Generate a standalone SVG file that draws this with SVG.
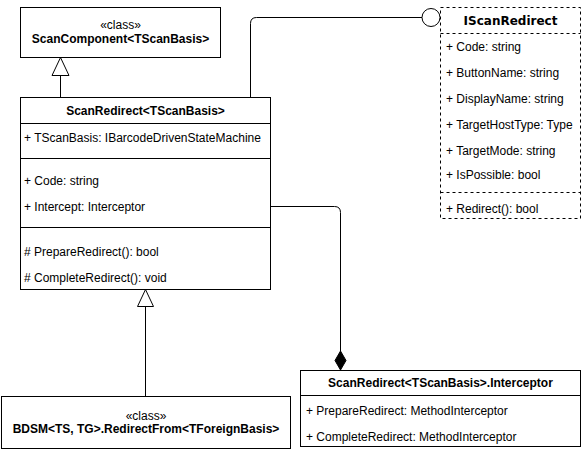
<svg xmlns="http://www.w3.org/2000/svg" width="581" height="451" viewBox="0 0 581 451">
<style>
.box{fill:#fff;stroke:#000;stroke-width:1}
.dash{fill:#fff;stroke:#000;stroke-width:1;stroke-dasharray:3 3}
.ln{fill:none;stroke:#000;stroke-width:1}
.dl{fill:none;stroke:#000;stroke-width:1;stroke-dasharray:3 3}
text{font-family:"Liberation Sans",Arial,sans-serif;font-size:12px;fill:#000}
.t{font-weight:bold;text-anchor:middle}
.c{text-anchor:middle}
.it{font-family:"DejaVu Sans",Verdana,sans-serif;font-weight:bold;text-anchor:middle}
</style>
<g id="connectors">
<path class="ln" d="M60.5,75.5 V97.5"/>
<polygon class="box" points="60.5,57.5 52,75.5 69,75.5"/>
<path class="ln" d="M145.5,306.5 V396.5"/>
<polygon class="box" points="145.5,289.5 137.5,306.5 153.5,306.5"/>
<path class="ln" d="M250.5,97.5 V23.5 Q250.5,17.5 256.5,17.5 H422"/>
<circle class="box" cx="431" cy="17.5" r="9"/>
<path class="ln" d="M270.5,206.5 H334.5 Q340.5,206.5 340.5,212.5 V351"/>
<polygon points="340.5,351 346,360.5 340.5,370 335,360.5" fill="#000" stroke="#000"/>
</g>
<g id="ScanComponent">
<rect class="box" x="20.5" y="7.5" width="200" height="50"/>
<text class="c" x="120.5" y="29">«class»</text>
<text class="t" x="120.5" y="43">ScanComponent&lt;TScanBasis&gt;</text>
</g>
<g id="ScanRedirect">
<rect class="box" x="20.5" y="97.5" width="250" height="192"/>
<text class="t" x="145.5" y="115">ScanRedirect&lt;TScanBasis&gt;</text>
<path class="ln" d="M20.5,123.5 H270.5 M20.5,158.5 H270.5 M20.5,227.5 H270.5"/>
<text x="24" y="142">+ TScanBasis: IBarcodeDrivenStateMachine</text>
<text x="24" y="185">+ Code: string</text>
<text x="24" y="211">+ Intercept: Interceptor</text>
<text x="24" y="256"># PrepareRedirect(): bool</text>
<text x="24" y="282"># CompleteRedirect(): void</text>
</g>
<g id="IScanRedirect">
<rect class="dash" x="440.5" y="7.5" width="140" height="211"/>
<path class="dl" d="M440.5,33.5 H580.5 M440.5,192.5 H580.5"/>
<text class="it" x="510.5" y="25">IScanRedirect</text>
<text x="446" y="51">+ Code: string</text>
<text x="446" y="77">+ ButtonName: string</text>
<text x="446" y="103">+ DisplayName: string</text>
<text x="446" y="129">+ TargetHostType: Type</text>
<text x="446" y="155">+ TargetMode: string</text>
<text x="446" y="179">+ IsPossible: bool</text>
<text x="446" y="213">+ Redirect(): bool</text>
</g>
<g id="Interceptor">
<rect class="box" x="300.5" y="370.5" width="280" height="76"/>
<path class="ln" d="M300.5,395.5 H580.5"/>
<text class="t" x="440.5" y="387">ScanRedirect&lt;TScanBasis&gt;.Interceptor</text>
<text x="306" y="415">+ PrepareRedirect: MethodInterceptor</text>
<text x="306" y="441">+ CompleteRedirect: MethodInterceptor</text>
</g>
<g id="RedirectFrom">
<rect class="box" x="1.5" y="396.5" width="289" height="52"/>
<text class="c" x="146" y="420">«class»</text>
<text class="t" x="146" y="433">BDSM&lt;TS, TG&gt;.RedirectFrom&lt;TForeignBasis&gt;</text>
</g>
</svg>
